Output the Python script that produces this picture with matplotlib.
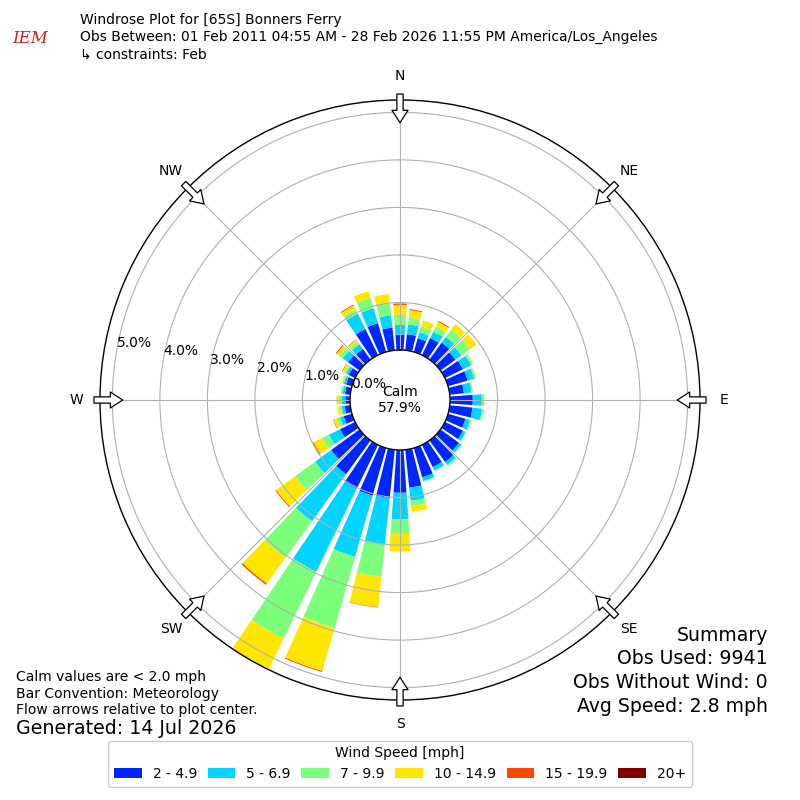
import numpy as np
import matplotlib
matplotlib.use("Agg")
import matplotlib.pyplot as plt
from matplotlib.patches import Patch

# ---------------- data ----------------
directions = list(range(0, 360, 10))  # degrees (meteorological)
speed_labels = ["2 - 4.9", "5 - 6.9", "7 - 9.9", "10 - 14.9", "15 - 19.9", "20+"]
speed_colors = ["#0026ff", "#00d4ff", "#7cff7a", "#ffe600", "#ff4800", "#800000"]

# percent of observations per direction for each speed bin
spd_2_49 = [0.32, 0.34, 0.30, 0.40, 0.44, 0.39, 0.42, 0.43, 0.30, 0.48, 0.48, 0.38,
            0.42, 0.48, 0.56, 0.52, 0.64, 0.80, 0.90, 1.02, 1.04, 1.02, 0.88, 0.74,
            0.35, 0.18, 0.12, 0.10, 0.11, 0.13, 0.15, 0.30, 0.28, 0.61, 0.63, 0.48]
spd_5_69 = [0.21, 0.21, 0.13, 0.15, 0.15, 0.16, 0.19, 0.14, 0.16, 0.19, 0.20, 0.10,
            0.06, 0.06, 0.08, 0.08, 0.08, 0.28, 0.56, 0.98, 1.34, 1.95, 1.22, 0.42,
            0.26, 0.08, 0.06, 0.07, 0.05, 0.05, 0.06, 0.14, 0.12, 0.36, 0.33, 0.26]
spd_7_99 = [0.21, 0.14, 0.13, 0.12, 0.19, 0.22, 0.05, 0.04, 0.03, 0.05, 0.03, 0.03,
            0.02, 0.02, 0.03, 0.02, 0.02, 0.11, 0.31, 0.69, 1.56, 1.56, 0.95, 0.52,
            0.16, 0.07, 0.04, 0.07, 0.03, 0.03, 0.04, 0.08, 0.06, 0.10, 0.22, 0.27]
spd_10_149 = [0.21, 0.16, 0.13, 0.11, 0.14, 0.17, 0.00, 0.00, 0.00, 0.00, 0.00, 0.00,
              0.00, 0.00, 0.00, 0.00, 0.00, 0.12, 0.37, 0.64, 0.94, 0.73, 0.67, 0.49,
              0.20, 0.07, 0.05, 0.05, 0.02, 0.02, 0.05, 0.08, 0.05, 0.09, 0.15, 0.18]
spd_15_199 = [0.03, 0.02, 0.00, 0.02, 0.00, 0.00, 0.00, 0.00, 0.00, 0.00, 0.00, 0.00,
              0.00, 0.00, 0.00, 0.00, 0.00, 0.00, 0.00, 0.01, 0.02, 0.00, 0.03, 0.02,
              0.02, 0.01, 0.00, 0.00, 0.00, 0.00, 0.01, 0.02, 0.01, 0.02, 0.00, 0.00]
spd_20p = [0.0] * 36

series = [spd_2_49, spd_5_69, spd_7_99, spd_10_149, spd_15_199, spd_20p]
radial_ticks = [0, 1, 2, 3, 4, 5]
compass_labels = ["N", "NE", "E", "SE", "S", "SW", "W", "NW"]
compass_angles = [0, 45, 90, 135, 180, 225, 270, 315]
calm_pct = 57.9

title_lines = ["Windrose Plot for [65S] Bonners Ferry",
               "Obs Between: 01 Feb 2011 04:55 AM - 28 Feb 2026 11:55 PM America/Los_Angeles",
               "\u21b3 constraints: Feb"]
summary_lines = ["Summary", "Obs Used: 9941", "Obs Without Wind: 0", "Avg Speed: 2.8 mph"]
notes_lines = ["Calm values are < 2.0 mph", "Bar Convention: Meteorology",
               "Flow arrows relative to plot center."]
generated = "Generated: 14 Jul 2026"

# ---------------- figure ----------------
fig = plt.figure(figsize=(8, 8), dpi=100)
ax = fig.add_axes([0.125, 0.125, 0.75, 0.75], projection="polar")
ax.set_theta_zero_location("N")
ax.set_theta_direction(-1)

theta = np.deg2rad(directions)
width = np.deg2rad(8.0)
bottom = np.zeros(len(directions))
for vals, col in zip(series, speed_colors):
    vals = np.asarray(vals)
    ax.bar(theta, vals, width=width, bottom=bottom, color=col, edgecolor="none",
           linewidth=0, zorder=1)
    bottom = bottom + vals

rmax = float(bottom.max())
ax.set_ylim(0, rmax)
ax.set_rorigin(-rmax / 5.0)

ax.set_yticks(radial_ticks)
ax.set_yticklabels([])
ax.set_xticks(np.deg2rad(compass_angles))
ax.set_xticklabels([])
ax.grid(True, color="#b0b0b0", linewidth=0.8)
for name, sp in ax.spines.items():
    sp.set_color("black")
    sp.set_linewidth(1.0)

# radial labels
lab_theta = np.deg2rad(280)
for t in radial_ticks:
    ax.text(lab_theta, t, f"{t:.1f}%", ha="left", va="bottom", fontsize=10, zorder=5)

# calm text
ax.text(0.5, 0.5, f"Calm\n{calm_pct:.1f}%", transform=ax.transAxes, ha="center",
        va="center", fontsize=10, zorder=5)

# compass labels and flow arrows
for lab, ang in zip(compass_labels, compass_angles):
    a = np.deg2rad(ang)
    ax.text(0.5 + 0.54 * np.sin(a), 0.5 + 0.54 * np.cos(a), lab, transform=ax.transAxes,
            ha="center", va="center", fontsize=10)
    tail = (0.5 + 0.510 * np.sin(a), 0.5 + 0.510 * np.cos(a))
    tip = (0.5 + 0.462 * np.sin(a), 0.5 + 0.462 * np.cos(a))
    ax.annotate("", xy=tip, xytext=tail, xycoords="axes fraction",
                textcoords="axes fraction", annotation_clip=False,
                arrowprops=dict(arrowstyle="simple,head_length=0.9,head_width=1.15,tail_width=0.45",
                                fc="white", ec="black", lw=0.9, shrinkA=0, shrinkB=0,
                                mutation_scale=10),
                zorder=6)

# title block
for i, line in enumerate(title_lines):
    fig.text(0.10, 0.975 - i * 0.0215, line, ha="left", va="center", fontsize=10)

# logo text
fig.text(0.038, 0.952, "IEM", color="#cc2222", fontsize=12, style="italic",
         family="DejaVu Serif", ha="center", va="center")

# summary block
for i, line in enumerate(summary_lines):
    fig.text(0.96, 0.206 - i * 0.0295, line, ha="right", va="center", fontsize=13.6)

# notes block
for i, line in enumerate(notes_lines):
    fig.text(0.02, 0.154 - i * 0.021, line, ha="left", va="center", fontsize=10)
fig.text(0.02, 0.089, generated, ha="left", va="center", fontsize=13.7)

# legend
handles = [Patch(facecolor=c, edgecolor="none") for c in speed_colors]
fig.legend(handles, speed_labels, loc="lower center", bbox_to_anchor=(0.5, 0.008),
           ncol=6, title="Wind Speed [mph]", fontsize=10, title_fontsize=10,
           handlelength=2.0, handleheight=0.7, columnspacing=0.75, framealpha=1)

fig.savefig("out.png", dpi=100)
